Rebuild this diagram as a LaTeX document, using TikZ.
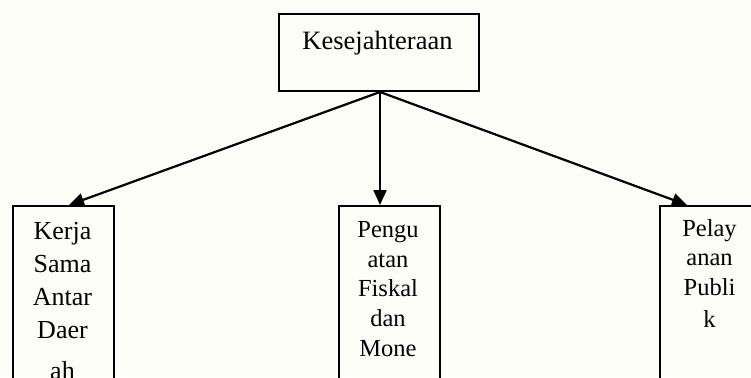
\documentclass[tikz,border=0pt]{standalone}
\usepackage{fontspec}
\setmainfont{Liberation Serif}
\usetikzlibrary{arrows.meta,calc}
\definecolor{paper}{RGB}{253,254,248}
\tikzset{
  box/.style={draw=black, line width=2pt, fill=none, inner sep=0pt, anchor=north west},
  boxtext/.style={anchor=base, align=center, inner sep=0pt, text=black},
  link/.style={line width=2.2pt, -{Triangle[length=15pt,width=13pt]}},
}
\begin{document}
\begin{tikzpicture}[x=1pt,y=-1pt]
  % page area
  \fill[paper] (0,0) rectangle (751,377);
  \useasboundingbox (0,0) rectangle (751,377);
  \clip (0,0) rectangle (751,377);

  % top box
  \node (root) [box, minimum width=200pt, minimum height=77pt] at (278,13) {};
  \node (roottext) [boxtext, font=\fontsize{26.5}{32}\selectfont] at (377.5,50) {Kesejahteraan};

  % lower boxes (they run past the bottom edge)
  \node (kerja) [box, minimum width=101pt, minimum height=220pt] at (12,205) {};
  \node (mid)   [box, minimum width=101pt, minimum height=220pt] at (338,205) {};
  \node (pel)   [box, minimum width=102pt, minimum height=220pt] at (659,205) {};

  % multi-line text: the base anchor sits on the last line
  \node (kerjatext) [boxtext, font=\fontsize{26}{33.1}\selectfont] at (62.5,379.5)
    {Kerja\\Sama\\Antar\\Daer\\[8pt]ah};
  \node (midtext) [boxtext, font=\fontsize{24.5}{29.6}\selectfont] at (388,356)
    {Pengu\\atan\\Fiskal\\dan\\Mone};
  \node (peltext) [boxtext, font=\fontsize{24.5}{29.2}\selectfont] at (709.5,327)
    {Pelay\\anan\\Publi\\[2.8pt]k};

  % arrows
  \draw[link] ($(root.south)+(1,0)$) -- ($(kerja.north)+(5.5,0)$);
  \draw[link] ($(root.south)+(1,0)$) -- ($(mid.north)+(-9.5,0)$);
  \draw[link] ($(root.south)+(1,0)$) -- ($(pel.north)+(-24,0)$);
\end{tikzpicture}
\end{document}
